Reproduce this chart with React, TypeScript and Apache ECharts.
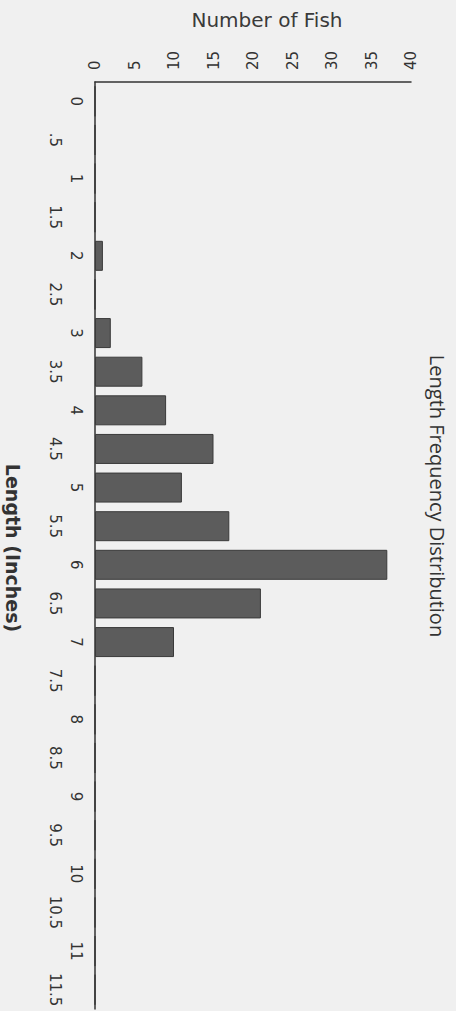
import React, { useEffect, useRef } from "react";
import * as echarts from "echarts";

const lengthLabels = [
  "0", ".5", "1", "1.5", "2", "2.5", "3", "3.5", "4", "4.5", "5", "5.5",
  "6", "6.5", "7", "7.5", "8", "8.5", "9", "9.5", "10", "10.5", "11", "11.5",
];
const fishCounts = [
  0, 0, 0, 0, 1, 0, 2, 6, 9, 15, 11, 17,
  37, 21, 10, 0, 0, 0, 0, 0, 0, 0, 0, 0,
];
const valueMin = 0;
const valueMax = 40;
const valueInterval = 5;

const titleText = "Length Frequency Distribution";
const valueAxisName = "Number of Fish";
const categoryAxisName = "Length (Inches)";

export default function App() {
  const ref = useRef<HTMLDivElement>(null);
  useEffect(() => {
    document.body.style.margin = "0";
    const chart = echarts.init(ref.current!, null, { renderer: "svg" });
    const labelFont = "DejaVu Sans";
    chart.setOption({
      animation: false,
      backgroundColor: "#f0f0f0",
      grid: { left: 95, top: 82, right: 45, bottom: 2, containLabel: false },
      xAxis: {
        type: "value",
        position: "top",
        min: valueMin,
        max: valueMax,
        interval: valueInterval,
        axisLine: { show: true, lineStyle: { color: "#333", width: 1.5 } },
        axisTick: { show: false },
        splitLine: { show: false },
        axisLabel: {
          rotate: -90,
          margin: 12,
          color: "#333",
          fontSize: 15,
          fontFamily: labelFont,
        },
      },
      yAxis: [
        {
          type: "category",
          data: lengthLabels,
          inverse: true,
          position: "left",
          axisLine: { show: true, lineStyle: { color: "#333", width: 1.5 } },
          axisTick: { show: false },
          axisLabel: {
            interval: (i: number) => i % 2 === 0,
            rotate: -90,
            margin: 12,
            color: "#333",
            fontSize: 15,
            fontFamily: labelFont,
          },
        },
        {
          type: "category",
          data: lengthLabels,
          inverse: true,
          position: "left",
          axisLine: { show: false },
          axisTick: { show: false },
          axisLabel: {
            interval: (i: number) => i % 2 === 1,
            rotate: -90,
            margin: 33,
            color: "#333",
            fontSize: 15,
            fontFamily: labelFont,
          },
        },
      ],
      series: [
        {
          type: "bar",
          yAxisIndex: 0,
          data: fishCounts,
          barWidth: 30,
          itemStyle: { color: "#5c5c5c", borderColor: "#3a3a3a", borderWidth: 1 },
        },
      ],
      graphic: [
        {
          type: "text",
          x: 267,
          y: 20,
          style: {
            text: valueAxisName,
            font: "20px DejaVu Sans",
            fill: "#3a3a3a",
            align: "center",
            verticalAlign: "middle",
          },
        },
        {
          type: "text",
          x: 437,
          y: 496,
          rotation: -Math.PI / 2,
          style: {
            text: titleText,
            font: "20px Open Sans",
            fill: "#333",
            align: "center",
            verticalAlign: "middle",
          },
        },
        {
          type: "text",
          x: 13,
          y: 548,
          rotation: -Math.PI / 2,
          style: {
            text: categoryAxisName,
            font: "bold 19px DejaVu Sans",
            fill: "#333",
            align: "center",
            verticalAlign: "middle",
          },
        },
      ],
    });
    return () => chart.dispose();
  }, []);
  return <div ref={ref} style={{ width: 456, height: 1011 }} />;
}
